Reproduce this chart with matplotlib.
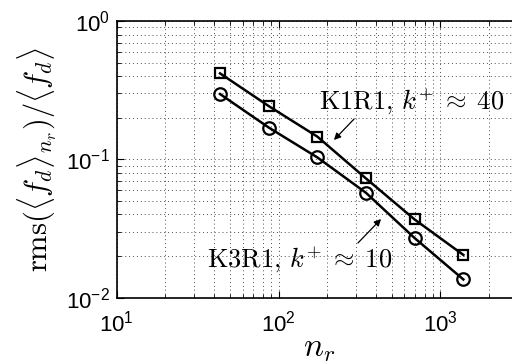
import numpy as np
import matplotlib.pyplot as plt
from matplotlib.ticker import LogLocator, NullFormatter

plt.rcParams['font.family'] = ['Liberation Sans', 'DejaVu Sans']
plt.rcParams['mathtext.fontset'] = 'cm'

# resolution levels n_r and rms error of the averaged drag
n_r = [43.5, 87, 174, 347, 694, 1388]
rms_k1r1 = [0.419, 0.243, 0.146, 0.0729, 0.0368, 0.0204]   # K1R1, k+ ~ 40
rms_k3r1 = [0.297, 0.170, 0.1033, 0.0574, 0.0270, 0.01356]  # K3R1, k+ ~ 10

fig = plt.figure(figsize=(5.12, 3.64), dpi=100)
ax = fig.add_axes([0.228, 0.182, 0.79, 0.76])

ax.loglog(n_r, rms_k1r1, color='k', lw=1.8, marker='s', ms=7,
          mfc='none', mec='k', mew=1.6)
ax.loglog(n_r, rms_k3r1, color='k', lw=1.8, marker='o', ms=9,
          mfc='none', mec='k', mew=1.6)

ax.set_xlim(10, 10**3.5)
ax.set_ylim(1e-2, 1)
ax.xaxis.set_major_locator(LogLocator(base=10, numticks=10))
ax.xaxis.set_minor_locator(LogLocator(base=10, subs=np.arange(2, 10), numticks=20))
ax.yaxis.set_minor_locator(LogLocator(base=10, subs=np.arange(2, 10), numticks=20))
ax.xaxis.set_minor_formatter(NullFormatter())
ax.yaxis.set_minor_formatter(NullFormatter())

ax.grid(True, which='both', linestyle=(0, (1, 3)), color='0.3', lw=0.7)
ax.tick_params(which='both', direction='in', top=True, right=True, labelsize=16)
ax.tick_params(which='major', length=5)
ax.tick_params(which='minor', length=3)
ax.tick_params(axis='x', pad=9)
ax.tick_params(axis='y', pad=5)
for s in ax.spines.values():
    s.set_linewidth(1.2)

ax.set_xlabel(r'$n_r$', fontsize=24, labelpad=-2)
ax.set_ylabel(r'$\mathrm{rms}(\langle f_d\rangle_{n_r})/\langle f_d\rangle$',
              fontsize=22, labelpad=6)

# labels with arrows pointing at each curve
ax.annotate('', xy=(332 / 512, 1 - 142 / 364), xycoords='figure fraction',
            xytext=(356 / 512, 1 - 117 / 364), textcoords='figure fraction',
            arrowprops=dict(arrowstyle='-|>', color='k', lw=0.9, mutation_scale=10))
fig.text(412 / 512, 1 - 101 / 364, r'$\mathrm{K1R1},\,k^{+}\;\approx\;40$',
         fontsize=19, ha='center', va='center')
ax.annotate('', xy=(383 / 512, 1 - 217 / 364), xycoords='figure fraction',
            xytext=(356 / 512, 1 - 245 / 364), textcoords='figure fraction',
            arrowprops=dict(arrowstyle='-|>', color='k', lw=0.9, mutation_scale=10))
fig.text(300 / 512, 1 - 259 / 364, r'$\mathrm{K3R1},\,k^{+}\;\approx\;10$',
         fontsize=19, ha='center', va='center')

fig.savefig('out.png', dpi=100)
